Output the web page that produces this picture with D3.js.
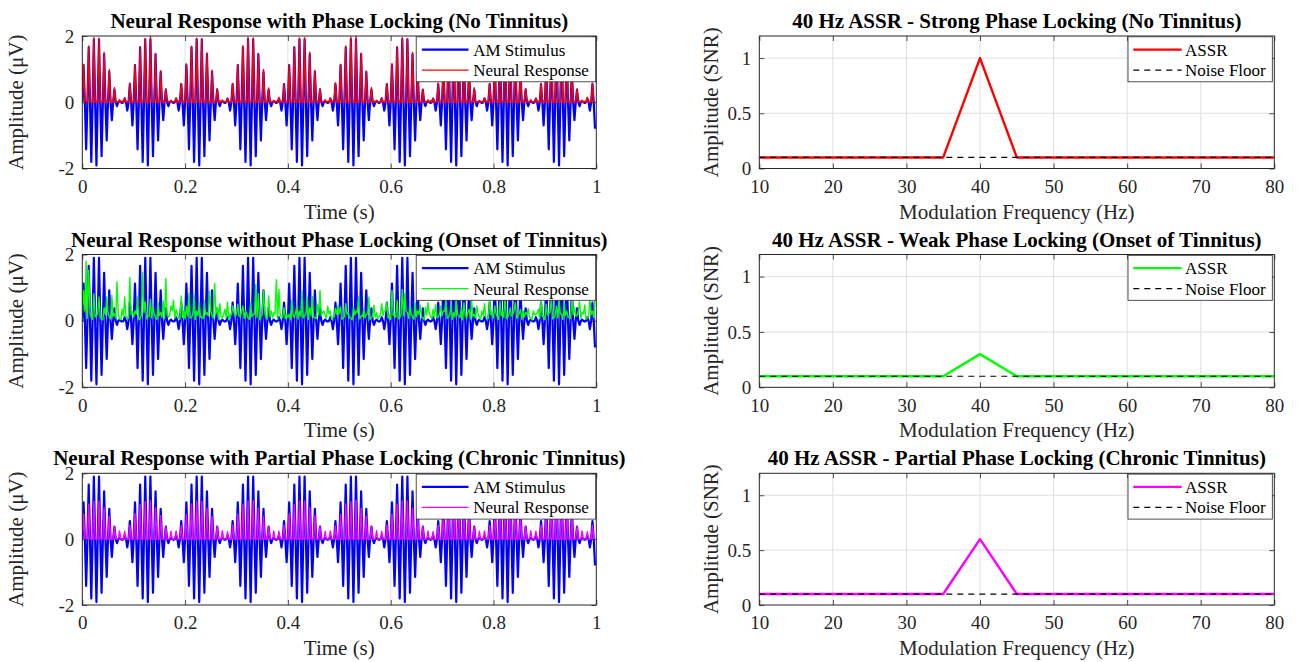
<!DOCTYPE html>
<html>
<head>
<meta charset="utf-8">
<script src="https://cdn.jsdelivr.net/npm/d3@7"></script>
<style>
  body { margin: 0; background: #fff; }
  svg { display: block; }
  text { font-family: "Liberation Serif", "Times New Roman", serif; }
</style>
</head>
<body>
<svg id="fig" width="1299" height="662"></svg>
<script>
// ---------------- time-domain data, sampled every quarter carrier cycle ----------------
const sampleStep = 0.0025;   // s

// 100 Hz carrier with 10 Hz amplitude modulation, one row per 0.1 s
const stimulus = [
  0,1.12,0,-1.42,0,1.66,0,-1.80,0,1.90,0,-1.91,0,1.90,0,-1.63,0,1.45,0,-1.15,0,0.92,0,-0.54,0,0.38,0,-0.12,0,0.04,0,-0.02,0,0.11,0,-0.25,0,0.55,0,-0.70,
  0,1.12,0,-1.42,0,1.66,0,-1.80,0,1.90,0,-1.91,0,1.90,0,-1.63,0,1.45,0,-1.15,0,0.92,0,-0.54,0,0.38,0,-0.12,0,0.04,0,-0.02,0,0.11,0,-0.25,0,0.55,0,-0.70,
  0,1.12,0,-1.42,0,1.66,0,-1.80,0,1.90,0,-1.91,0,1.90,0,-1.63,0,1.45,0,-1.15,0,0.92,0,-0.54,0,0.38,0,-0.12,0,0.04,0,-0.02,0,0.11,0,-0.25,0,0.55,0,-0.70,
  0,1.12,0,-1.42,0,1.66,0,-1.80,0,1.90,0,-1.91,0,1.90,0,-1.63,0,1.45,0,-1.15,0,0.92,0,-0.54,0,0.38,0,-0.12,0,0.04,0,-0.02,0,0.11,0,-0.25,0,0.55,0,-0.70,
  0,1.12,0,-1.42,0,1.66,0,-1.80,0,1.90,0,-1.91,0,1.90,0,-1.63,0,1.45,0,-1.15,0,0.92,0,-0.54,0,0.38,0,-0.12,0,0.04,0,-0.02,0,0.11,0,-0.25,0,0.55,0,-0.70,
  0,1.12,0,-1.42,0,1.66,0,-1.80,0,1.90,0,-1.91,0,1.90,0,-1.63,0,1.45,0,-1.15,0,0.92,0,-0.54,0,0.38,0,-0.12,0,0.04,0,-0.02,0,0.11,0,-0.25,0,0.55,0,-0.70,
  0,1.12,0,-1.42,0,1.66,0,-1.80,0,1.90,0,-1.91,0,1.90,0,-1.63,0,1.45,0,-1.15,0,0.92,0,-0.54,0,0.38,0,-0.12,0,0.04,0,-0.02,0,0.11,0,-0.25,0,0.55,0,-0.70,
  0,1.12,0,-1.42,0,1.66,0,-1.80,0,1.90,0,-1.91,0,1.90,0,-1.63,0,1.45,0,-1.15,0,0.92,0,-0.54,0,0.38,0,-0.12,0,0.04,0,-0.02,0,0.11,0,-0.25,0,0.55,0,-0.70,
  0,1.12,0,-1.42,0,1.66,0,-1.80,0,1.90,0,-1.91,0,1.90,0,-1.63,0,1.45,0,-1.15,0,0.92,0,-0.54,0,0.38,0,-0.12,0,0.04,0,-0.02,0,0.11,0,-0.25,0,0.55,0,-0.70,
  0,1.12,0,-1.42,0,1.66,0,-1.80,0,1.90,0,-1.91,0,1.90,0,-1.63,0,1.45,0,-1.15,0,0.92,0,-0.54,0,0.38,0,-0.12,0,0.04,0,-0.02,0,0.11,0,-0.25,0,0.55,0,-0.80
];

// phase-locked response: rectified carrier following the envelope
const lockedResponse = [
  0,1.15,0,0.03,0,1.70,0,0.02,0,1.95,0,0.04,0,1.93,0,0.02,0,1.50,0,0.05,0,0.98,0,0.03,0,0.44,0,0.02,0,0.08,0,0.04,0,0.14,0,0.02,0,0.58,0,0.03,
  0,1.13,0,0.02,0,1.68,0,0.04,0,1.92,0,0.03,0,2.00,0,0.02,0,1.47,0,0.03,0,0.95,0,0.05,0,0.40,0,0.03,0,0.06,0,0.02,0,0.13,0,0.04,0,0.56,0,0.02,
  0,1.16,0,0.04,0,1.69,0,0.02,0,1.93,0,0.03,0,1.92,0,0.04,0,1.49,0,0.02,0,0.97,0,0.03,0,0.42,0,0.05,0,0.07,0,0.03,0,0.12,0,0.02,0,0.57,0,0.04,
  0,1.14,0,0.03,0,1.71,0,0.03,0,1.96,0,0.02,0,1.94,0,0.03,0,1.46,0,0.04,0,0.99,0,0.02,0,0.43,0,0.03,0,0.05,0,0.04,0,0.15,0,0.03,0,0.55,0,0.02,
  0,1.12,0,0.02,0,1.67,0,0.05,0,1.94,0,0.03,0,1.95,0,0.02,0,1.51,0,0.03,0,0.96,0,0.04,0,0.41,0,0.02,0,0.08,0,0.03,0,0.13,0,0.05,0,0.59,0,0.03,
  0,1.15,0,0.04,0,1.70,0,0.02,0,1.97,0,0.04,0,2.00,0,0.03,0,1.48,0,0.02,0,0.94,0,0.03,0,0.45,0,0.04,0,0.06,0,0.02,0,0.14,0,0.03,0,0.56,0,0.04,
  0,1.17,0,0.03,0,1.66,0,0.03,0,1.95,0,0.02,0,1.91,0,0.05,0,1.50,0,0.03,0,0.98,0,0.02,0,0.39,0,0.03,0,0.07,0,0.05,0,0.12,0,0.02,0,0.58,0,0.03,
  0,1.13,0,0.02,0,1.69,0,0.04,0,1.93,0,0.03,0,1.94,0,0.02,0,1.47,0,0.04,0,0.97,0,0.03,0,0.44,0,0.02,0,0.05,0,0.03,0,0.14,0,0.04,0,0.57,0,0.02,
  0,1.14,0,0.05,0,1.72,0,0.02,0,1.96,0,0.03,0,1.92,0,0.04,0,1.49,0,0.02,0,0.95,0,0.04,0,0.42,0,0.03,0,0.08,0,0.02,0,0.13,0,0.03,0,0.55,0,0.05,
  0,1.16,0,0.03,0,1.68,0,0.03,0,1.94,0,0.02,0,1.95,0,0.03,0,1.52,0,0.03,0,0.99,0,0.02,0,0.40,0,0.04,0,0.06,0,0.03,0,0.15,0,0.02,0,0.58,0,0.03
];

// response without phase locking: irregular positive activity
const unlockedResponse = [
  0.15,0.92,0.30,1.80,0.08,1.53,0.22,0.10,0.05,0.82,0.12,0.18,0.20,0.72,0.10,0.05,0.03,0.40,0.18,0.72,0.25,0.12,0.06,0.77,0.14,0.22,0.09,1.18,0.21,0.06,0.04,0.35,0.16,0.72,0.11,0.10,0.07,1.31,0.19,0.28,
  0.12,0.30,0.20,0.72,0.03,0.08,0.18,1.46,0.25,0.57,0.06,0.15,0.14,0.65,0.09,0.40,0.21,0.10,0.04,0.55,0.16,0.25,0.11,0.60,0.07,1.28,0.19,0.12,0.15,0.45,0.30,0.62,0.08,0.35,0.22,0.08,0.05,0.75,0.10,0.30,
  0.06,0.45,0.14,0.84,0.09,0.10,0.21,0.80,0.04,0.30,0.16,0.55,0.11,0.12,0.07,0.60,0.19,0.25,0.15,0.90,0.30,0.15,0.08,1.13,0.22,0.40,0.05,0.52,0.12,0.10,0.20,0.35,0.10,0.57,0.03,0.20,0.18,0.45,0.25,0.15,
  0.19,0.50,0.15,0.12,0.30,0.45,0.08,0.30,0.22,0.08,0.05,0.55,0.12,0.20,0.20,1.10,0.10,0.82,0.03,0.15,0.18,0.92,0.25,0.10,0.06,0.75,0.14,0.30,0.09,0.25,0.21,1.24,0.04,0.95,0.16,0.12,0.11,0.40,0.07,0.20,
  0.10,0.20,0.03,0.62,0.18,0.10,0.25,0.45,0.06,0.30,0.14,0.90,0.09,0.15,0.21,0.72,0.04,0.40,0.16,0.74,0.11,0.10,0.07,0.50,0.19,0.92,0.15,0.25,0.30,0.15,0.08,0.44,0.22,0.30,0.05,0.10,0.12,0.38,0.20,0.47,
  0.22,0.42,0.05,0.10,0.12,0.52,0.20,0.25,0.10,0.08,0.03,0.42,0.18,0.30,0.25,0.72,0.06,0.15,0.14,0.35,0.09,0.20,0.21,0.72,0.04,0.10,0.16,0.47,0.11,0.25,0.07,0.12,0.19,0.52,0.15,0.30,0.30,0.57,0.08,0.18,
  0.04,0.92,0.16,0.20,0.11,0.62,0.07,0.10,0.19,0.95,0.15,0.83,0.30,0.25,0.08,0.45,0.22,0.12,0.05,0.55,0.12,0.30,0.20,0.48,0.10,0.10,0.03,0.40,0.18,0.55,0.25,0.15,0.06,0.35,0.14,0.50,0.09,0.12,0.21,0.45,
  0.15,0.30,0.30,0.62,0.08,0.10,0.22,0.48,0.05,0.25,0.12,0.70,0.20,0.15,0.10,0.40,0.03,0.55,0.18,0.08,0.25,0.35,0.06,0.60,0.14,0.20,0.09,0.45,0.21,0.12,0.04,0.30,0.16,0.52,0.11,0.10,0.07,0.65,0.19,0.25,
  0.09,0.45,0.21,0.12,0.04,0.58,0.16,0.30,0.11,0.75,0.07,0.10,0.19,0.40,0.15,0.20,0.30,0.55,0.08,0.15,0.22,0.35,0.05,0.30,0.12,0.25,0.20,0.37,0.10,0.10,0.03,0.30,0.18,0.20,0.25,0.35,0.06,0.60,0.14,0.15,
  0.03,0.50,0.18,0.25,0.25,0.68,0.06,0.10,0.14,0.45,0.09,0.62,0.21,0.20,0.04,0.55,0.16,0.30,0.11,0.12,0.07,0.72,0.19,0.40,0.15,0.15,0.30,0.58,0.08,0.25,0.22,0.48,0.05,0.10,0.12,0.65,0.20,0.30,0.10,0.72
];

// partial phase locking: weaker envelope following over a small constant drive
const partialResponse = [
  0,0.76,0,0,0,1.06,0,0,0,1.15,0,0,0,1.16,0,0,0,0.95,0,0,0,0.70,0,0,0,0.38,0,0,0,0.25,0,0,0,0.24,0,0,0,0.42,0,0,
  0,0.77,0,0,0,1.05,0,0,0,1.14,0,0,0,1.17,0,0,0,0.96,0,0,0,0.71,0,0,0,0.37,0,0,0,0.24,0,0,0,0.25,0,0,0,0.41,0,0,
  0,0.75,0,0,0,1.07,0,0,0,1.16,0,0,0,1.15,0,0,0,0.94,0,0,0,0.69,0,0,0,0.39,0,0,0,0.26,0,0,0,0.23,0,0,0,0.43,0,0,
  0,0.76,0,0,0,1.06,0,0,0,1.15,0,0,0,1.17,0,0,0,0.95,0,0,0,0.70,0,0,0,0.38,0,0,0,0.25,0,0,0,0.24,0,0,0,0.42,0,0,
  0,0.77,0,0,0,1.05,0,0,0,1.16,0,0,0,1.16,0,0,0,0.96,0,0,0,0.71,0,0,0,0.37,0,0,0,0.24,0,0,0,0.25,0,0,0,0.41,0,0,
  0,0.75,0,0,0,1.07,0,0,0,1.14,0,0,0,1.18,0,0,0,0.94,0,0,0,0.69,0,0,0,0.39,0,0,0,0.26,0,0,0,0.24,0,0,0,0.43,0,0,
  0,0.76,0,0,0,1.06,0,0,0,1.15,0,0,0,1.16,0,0,0,0.95,0,0,0,0.70,0,0,0,0.38,0,0,0,0.25,0,0,0,0.23,0,0,0,0.42,0,0,
  0,0.77,0,0,0,1.05,0,0,0,1.16,0,0,0,1.17,0,0,0,0.96,0,0,0,0.71,0,0,0,0.37,0,0,0,0.24,0,0,0,0.25,0,0,0,0.41,0,0,
  0,0.75,0,0,0,1.07,0,0,0,1.15,0,0,0,1.15,0,0,0,0.94,0,0,0,0.69,0,0,0,0.39,0,0,0,0.26,0,0,0,0.24,0,0,0,0.43,0,0,
  0,0.76,0,0,0,1.06,0,0,0,1.16,0,0,0,1.16,0,0,0,0.95,0,0,0,0.70,0,0,0,0.38,0,0,0,0.25,0,0,0,0.23,0,0,0,0.42,0,0
];

const timeTicks = [0, 0.2, 0.4, 0.6, 0.8, 1];
const timeTickLabels = ["0", "0.2", "0.4", "0.6", "0.8", "1"];
const ampTicks = [-2, 0, 2];
const ampTickLabels = ["-2", "0", "2"];

// ---------------- spectral data ----------------
const modFreqs   = [10, 15, 20, 25, 30, 35, 40, 45, 50, 55, 60, 65, 70, 75, 80];
const assrStrong = [0.1, 0.1, 0.1, 0.1, 0.1, 0.1, 1.0, 0.1, 0.1, 0.1, 0.1, 0.1, 0.1, 0.1, 0.1];
const assrWeak   = [0.1, 0.1, 0.1, 0.1, 0.1, 0.1, 0.3, 0.1, 0.1, 0.1, 0.1, 0.1, 0.1, 0.1, 0.1];
const assrPartial= [0.1, 0.1, 0.1, 0.1, 0.1, 0.1, 0.6, 0.1, 0.1, 0.1, 0.1, 0.1, 0.1, 0.1, 0.1];
const noiseFloor = [0.1, 0.1, 0.1, 0.1, 0.1, 0.1, 0.1, 0.1, 0.1, 0.1, 0.1, 0.1, 0.1, 0.1, 0.1];

const freqTicks = [10, 20, 30, 40, 50, 60, 70, 80];
const freqTickLabels = ["10", "20", "30", "40", "50", "60", "70", "80"];
const snrTicks = [0, 0.5, 1];
const snrTickLabels = ["0", "0.5", "1"];

// ---------------- drawing ----------------
const svg = d3.select("#fig");
const AXIS = "#262626", GRID = "#dfdfdf";
const rows = [
  { top: 36,    bottom: 168.5 },
  { top: 254.5, bottom: 387.3 },
  { top: 473.3, bottom: 605 }
];
const leftCols  = { x0: 82.3,  x1: 596.3 };
const rightCols = { x0: 759.3, x1: 1274.3 };
let clipId = 0;

function toPoints(values) {
  return values.map((v, i) => [i * sampleStep, v]);
}
function zipPoints(xs, ys) {
  return xs.map((x, i) => [x, ys[i]]);
}

function panel(o) {
  const x = d3.scaleLinear().domain(o.xDomain).range([o.x0, o.x1]);
  const y = d3.scaleLinear().domain(o.yDomain).range([o.bottom, o.top]);
  const g = svg.append("g");

  // grid
  g.append("g").selectAll("line").data(o.xTicks.filter(t => t > o.xDomain[0] && t < o.xDomain[1]))
    .join("line").attr("x1", d => x(d)).attr("x2", d => x(d))
    .attr("y1", o.top).attr("y2", o.bottom).attr("stroke", GRID).attr("stroke-width", 1);
  g.append("g").selectAll("line").data(o.yTicks.filter(t => t > o.yDomain[0] && t < o.yDomain[1]))
    .join("line").attr("y1", d => y(d)).attr("y2", d => y(d))
    .attr("x1", o.x0).attr("x2", o.x1).attr("stroke", GRID).attr("stroke-width", 1);

  // series
  const id = "clip" + (clipId++);
  svg.append("clipPath").attr("id", id).append("rect")
    .attr("x", o.x0).attr("y", o.top).attr("width", o.x1 - o.x0).attr("height", o.bottom - o.top);
  const line = d3.line().x(d => x(d[0])).y(d => y(d[1]));
  const sg = g.append("g").attr("clip-path", `url(#${id})`);
  o.series.forEach(s => {
    sg.append("path").attr("d", line(s.points)).attr("fill", "none")
      .attr("stroke", s.color).attr("stroke-width", s.width)
      .attr("stroke-dasharray", s.dash || null)
      .attr("stroke-linejoin", "round");
  });

  // axes (ticks pointing inward on all four sides)
  const fmtX = (d) => o.xTickLabels[o.xTicks.indexOf(d)];
  const fmtY = (d) => o.yTickLabels[o.yTicks.indexOf(d)];
  const styleAxis = (sel, size) => {
    sel.select(".domain").remove();
    sel.selectAll(".tick line").attr("stroke", AXIS).attr("stroke-width", 0.8);
    sel.selectAll(".tick text").attr("fill", AXIS).style("font-size", size + "px")
      .style("font-family", '"Liberation Serif", serif');
  };
  g.append("g").attr("transform", `translate(0,${o.bottom})`)
    .call(d3.axisBottom(x).tickValues(o.xTicks).tickFormat(fmtX).tickSizeInner(-5).tickSizeOuter(0).tickPadding(11))
    .call(s => styleAxis(s, 19));
  g.append("g").attr("transform", `translate(0,${o.top})`)
    .call(d3.axisTop(x).tickValues(o.xTicks).tickFormat("").tickSizeInner(-5).tickSizeOuter(0))
    .call(s => styleAxis(s, 19));
  g.append("g").attr("transform", `translate(${o.x0},0)`)
    .call(d3.axisLeft(y).tickValues(o.yTicks).tickFormat(fmtY).tickSizeInner(-5).tickSizeOuter(0).tickPadding(8))
    .call(s => styleAxis(s, 19));
  g.append("g").attr("transform", `translate(${o.x1},0)`)
    .call(d3.axisRight(y).tickValues(o.yTicks).tickFormat("").tickSizeInner(-5).tickSizeOuter(0))
    .call(s => styleAxis(s, 19));

  // box
  g.append("rect").attr("x", o.x0).attr("y", o.top).attr("width", o.x1 - o.x0)
    .attr("height", o.bottom - o.top).attr("fill", "none").attr("stroke", AXIS).attr("stroke-width", 1);

  // labels and title
  const cx = (o.x0 + o.x1) / 2, cy = (o.top + o.bottom) / 2;
  g.append("text").attr("x", cx).attr("y", o.top - 8).attr("text-anchor", "middle")
    .style("font-size", "21px").style("font-weight", "bold").attr("fill", "#000").text(o.title);
  g.append("text").attr("x", cx).attr("y", o.bottom + 50).attr("text-anchor", "middle")
    .style("font-size", "21px").attr("fill", AXIS).text(o.xLabel);
  g.append("text").attr("transform", `translate(${o.yLabelX},${cy}) rotate(-90)`).attr("text-anchor", "middle")
    .style("font-size", "21px").attr("fill", AXIS).text(o.yLabel);

  // legend
  const lw = o.legendWidth, bx = o.x1 - lw - o.legendInset, by = o.top + 0.8;
  const lg = g.append("g");
  lg.append("rect").attr("x", bx).attr("y", by).attr("width", lw).attr("height", 45)
    .attr("fill", "#fff").attr("stroke", AXIS).attr("stroke-width", 0.8);
  o.legend.forEach((e, i) => {
    const ly = by + 12.8 + i * 20.5;
    lg.append("line").attr("x1", bx + o.legendLine[0]).attr("x2", bx + o.legendLine[1])
      .attr("y1", ly).attr("y2", ly).attr("stroke", e.color).attr("stroke-width", e.width)
      .attr("stroke-dasharray", e.dash || null);
    lg.append("text").attr("x", bx + 57).attr("y", ly + 6).style("font-size", "17px")
      .attr("fill", "#000").text(e.label);
  });
}

// left column: time-domain responses
const timeDefs = [
  { title: "Neural Response with Phase Locking (No Tinnitus)", resp: lockedResponse, color: "#ff0000" },
  { title: "Neural Response without Phase Locking (Onset of Tinnitus)", resp: unlockedResponse, color: "#00ff00" },
  { title: "Neural Response with Partial Phase Locking (Chronic Tinnitus)", resp: partialResponse, color: "#ff00ff" }
];
timeDefs.forEach((d, i) => {
  panel({
    x0: leftCols.x0, x1: leftCols.x1, top: rows[i].top, bottom: rows[i].bottom,
    xDomain: [0, 1], yDomain: [-2, 2],
    xTicks: timeTicks, xTickLabels: timeTickLabels, yTicks: ampTicks, yTickLabels: ampTickLabels,
    title: d.title, xLabel: "Time (s)", yLabel: "Amplitude (μV)", yLabelX: 23,
    series: [
      { points: toPoints(stimulus), color: "#0000ff", width: 2.2 },
      { points: toPoints(d.resp), color: d.color, width: 1.4 }
    ],
    legend: [
      { label: "AM Stimulus", color: "#0000ff", width: 2.2 },
      { label: "Neural Response", color: d.color, width: 1.4 }
    ],
    legendWidth: 179.5, legendInset: 0.6, legendLine: [5.7, 52.3]
  });
});

// right column: ASSR spectra
const specDefs = [
  { title: "40 Hz ASSR - Strong Phase Locking (No Tinnitus)", assr: assrStrong, color: "#ff0000" },
  { title: "40 Hz ASSR - Weak Phase Locking (Onset of Tinnitus)", assr: assrWeak, color: "#00ff00" },
  { title: "40 Hz ASSR - Partial Phase Locking (Chronic Tinnitus)", assr: assrPartial, color: "#ff00ff" }
];
specDefs.forEach((d, i) => {
  panel({
    x0: rightCols.x0, x1: rightCols.x1, top: rows[i].top, bottom: rows[i].bottom,
    xDomain: [10, 80], yDomain: [0, 1.2],
    xTicks: freqTicks, xTickLabels: freqTickLabels, yTicks: snrTicks, yTickLabels: snrTickLabels,
    title: d.title, xLabel: "Modulation Frequency (Hz)", yLabel: "Amplitude (SNR)", yLabelX: 718,
    series: [
      { points: zipPoints(modFreqs, d.assr), color: d.color, width: 2.4 },
      { points: zipPoints(modFreqs, noiseFloor), color: "#000", width: 1.2, dash: "6,5" }
    ],
    legend: [
      { label: "ASSR", color: d.color, width: 2.4 },
      { label: "Noise Floor", color: "#000", width: 1.2, dash: "6,5" }
    ],
    legendWidth: 144.3, legendInset: 2, legendLine: [5.3, 53.7]
  });
});
</script>
</body>
</html>
